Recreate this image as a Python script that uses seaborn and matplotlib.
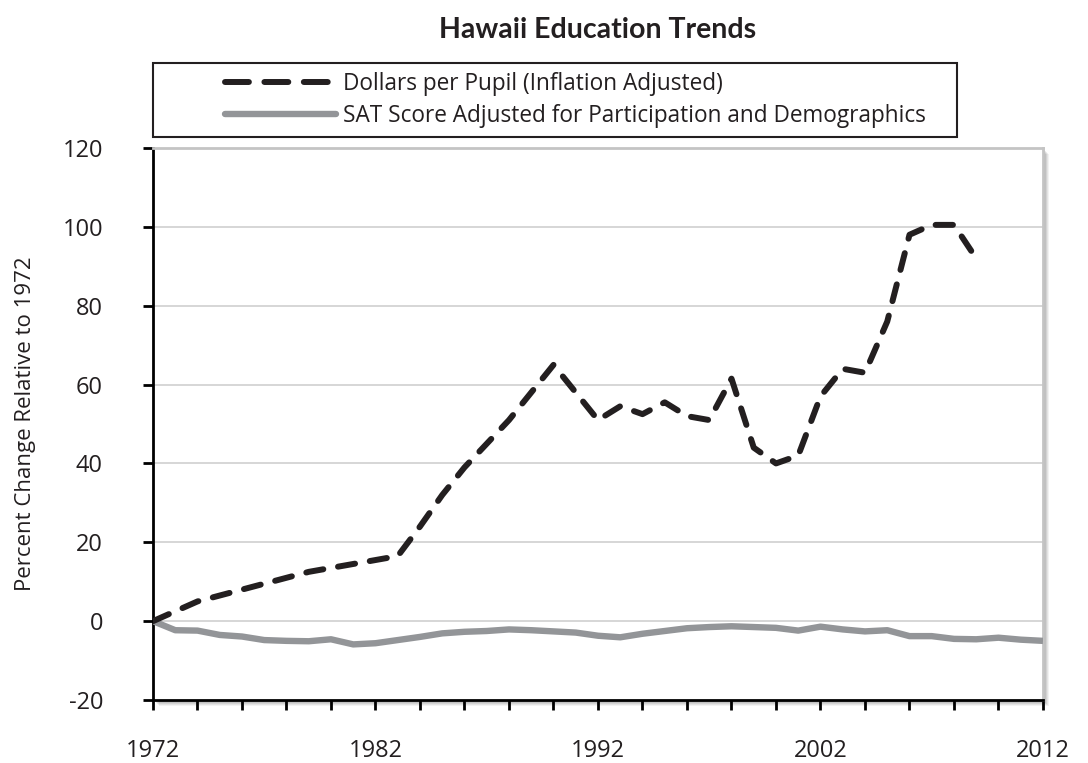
import numpy as np
import pandas as pd
import matplotlib
matplotlib.use("Agg")
import matplotlib.pyplot as plt
import seaborn as sns
from matplotlib.patches import Rectangle
from matplotlib.lines import Line2D
from matplotlib.ticker import FixedLocator, FuncFormatter

# ---- data ----
years_dollars = list(range(1972, 2010))
dollars = [0, 2.5, 5, 6.5, 8, 9.5, 11, 12.5, 13.5, 14.5, 15.5, 16.5,
           24, 32, 39, 45, 51, 58, 65, 58, 51, 54.5, 52.5, 55.5, 52, 51,
           61.5, 44, 40, 42, 57, 64, 63, 76, 98, 100.5, 100.5, 92]
years_sat = list(range(1972, 2013))
sat = [0, -2.3, -2.4, -3.5, -3.9, -4.8, -5.0, -5.1, -4.6, -5.9, -5.6, -4.8,
       -4.0, -3.1, -2.7, -2.5, -2.1, -2.3, -2.6, -2.9, -3.7, -4.1, -3.2, -2.5,
       -1.8, -1.5, -1.3, -1.5, -1.7, -2.4, -1.4, -2.1, -2.6, -2.3, -3.8, -3.8,
       -4.5, -4.6, -4.2, -4.7, -5.0]
series_names = ["Dollars per Pupil (Inflation Adjusted)",
                "SAT Score Adjusted for Participation and Demographics"]
title = "Hawaii Education Trends"
ylabel = "Percent Change Relative to 1972"
yticks = [-20, 0, 20, 40, 60, 80, 100, 120]
xlabels = [1972, 1982, 1992, 2002, 2012]

df_d = pd.DataFrame({"year": years_dollars, "value": dollars})
df_s = pd.DataFrame({"year": years_sat, "value": sat})

sns.set_theme(style="white")
plt.rcParams['font.family'] = ['Open Sans', 'DejaVu Sans']
plt.rcParams['axes.unicode_minus'] = False

fig = plt.figure(figsize=(10.88, 7.63), dpi=100)
ax_rect = [153/1088, 1-700/763, (1043-153)/1088, (700-148)/763]

# shadow behind plot area
for i, a in enumerate([0.05, 0.06, 0.07, 0.08, 0.09]):
    off = (6 - i) / 1088
    offy = (6 - i) / 763
    fig.patches.append(Rectangle((ax_rect[0] + off, ax_rect[1] - offy), ax_rect[2], ax_rect[3],
                                 transform=fig.transFigure, facecolor='black', alpha=a,
                                 edgecolor='none', zorder=0))

ax = fig.add_axes(ax_rect)
ax.set_zorder(1)
ax.set_facecolor('white')

DARK = '#231f20'
GRAY = '#939598'

sns.lineplot(data=df_s, x="year", y="value", ax=ax, color=GRAY, linewidth=4.6,
             solid_capstyle='butt', zorder=3)
sns.lineplot(data=df_d, x="year", y="value", ax=ax, color=DARK, linewidth=4.3,
             zorder=4)
dline = ax.lines[-1]
dline.set_dashes((2.9, 2.5))
dline.set_dash_capstyle('round')
dline.set_dash_joinstyle('round')

ax.set_xlim(1972, 2012)
ax.set_ylim(-20, 120)
ax.set_yticks(yticks)
ax.xaxis.set_major_locator(FixedLocator(list(range(1972, 2013, 2))))
ax.xaxis.set_major_formatter(FuncFormatter(lambda v, p: f"{int(round(v))}" if int(round(v)) in xlabels else ""))

for y in yticks[1:-1]:
    ax.axhline(y, color='#cfcfcf', linewidth=1.2, zorder=1)

for s in ['left', 'bottom']:
    ax.spines[s].set_color('black')
    ax.spines[s].set_linewidth(2.0)
for s in ['top', 'right']:
    ax.spines[s].set_color('#c4c4c4')
    ax.spines[s].set_linewidth(2.0)

ax.tick_params(axis='x', direction='out', length=7, width=2, color='black',
               pad=21, labelsize=17, labelcolor='#231f20', bottom=True)
ax.tick_params(axis='y', direction='out', length=7, width=2, color='black',
               pad=29, labelsize=17, labelcolor='#231f20', left=True)

ax.set_xlabel("")
ax.set_ylabel(ylabel, fontsize=16, color='#231f20')
ax.yaxis.set_label_coords(-(153 - 36) / 890, 0.5)

fig.text(598/1088, 1-30/763, title, ha='center', va='center', fontsize=20.5,
         fontweight='bold', family=['Lato', 'DejaVu Sans'], color='#231f20')

# legend box
fig.patches.append(Rectangle((153/1088, 1-137/763), (957-153)/1088, (137-63)/763,
                             transform=fig.transFigure, facecolor='white',
                             edgecolor='#231f20', linewidth=1.5, zorder=2))
handles = [Line2D([0], [0], color=DARK, linewidth=4.3, dashes=(4.0, 2.6),
                  dash_capstyle='round'),
           Line2D([0], [0], color=GRAY, linewidth=4.6)]
leg = fig.legend(handles, series_names, loc='center left',
                 bbox_to_anchor=(205/1088, 1-100/763), frameon=False,
                 fontsize=16.3, handlelength=4.9, handletextpad=0.3,
                 labelspacing=0.35)
for t in leg.get_texts():
    t.set_color('#231f20')
leg.set_zorder(5)

fig.savefig("out.png", dpi=100)
